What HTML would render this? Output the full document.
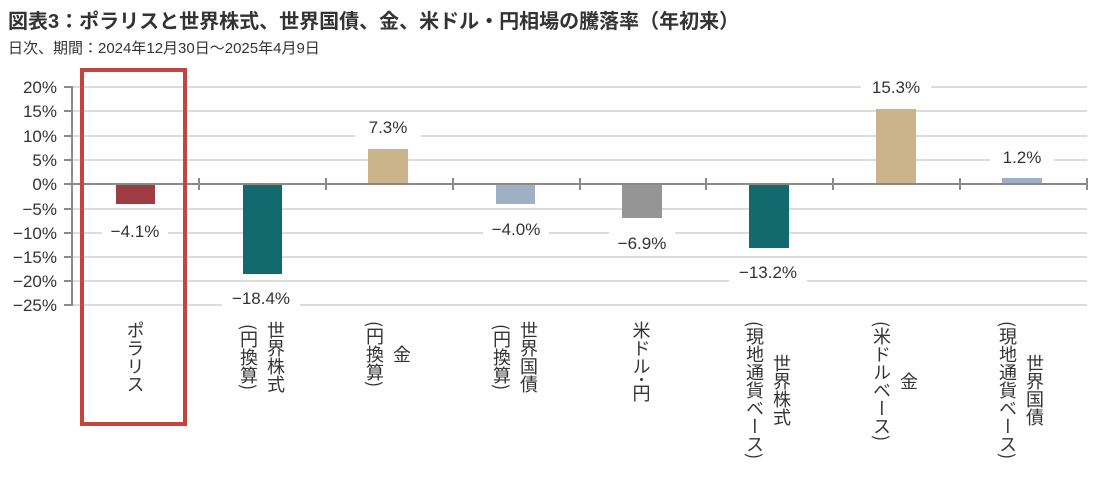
<!DOCTYPE html>
<html><head><meta charset="utf-8"><style>
body{margin:0;width:1097px;height:478px;background:#fff;position:relative;overflow:hidden;font-family:"Liberation Sans","Noto Sans CJK JP",sans-serif;color:#333}
.t{position:absolute;left:8px;top:5px;font-size:20px;font-weight:bold;color:#333;white-space:nowrap}
.s{position:absolute;left:8px;top:37px;font-size:15px;color:#333;white-space:nowrap}
.v{position:absolute;top:321px;writing-mode:vertical-rl;font-size:18px;line-height:27px;text-align:center;color:#333;white-space:nowrap;transform:translateX(-50%);font-family:"Noto Sans CJK JP",sans-serif}
.box{position:absolute;left:80px;top:68px;width:99px;height:350px;border:4px solid #c4453e}
</style></head><body>
<div class="t">図表3：ポラリスと世界株式、世界国債、金、米ドル・円相場の騰落率（年初来）</div>
<div class="s">日次、期間：2024年12月30日～2025年4月9日</div>
<svg width="1097" height="478" style="position:absolute;left:0;top:0" font-family="Liberation Sans, sans-serif">
<g stroke="#dcdcdc" stroke-width="2">
<line x1="72" x2="1087" y1="87" y2="87"/><line x1="72" x2="1087" y1="111" y2="111"/><line x1="72" x2="1087" y1="136" y2="136"/><line x1="72" x2="1087" y1="160" y2="160"/><line x1="72" x2="1087" y1="209" y2="209"/><line x1="72" x2="1087" y1="233" y2="233"/><line x1="72" x2="1087" y1="257" y2="257"/><line x1="72" x2="1087" y1="281" y2="281"/><line x1="72" x2="1087" y1="305" y2="305"/>
</g>
<rect x="116" y="184" width="39" height="20" fill="#9e3c44"/>
<rect x="243" y="184" width="39" height="90" fill="#136a6e"/>
<rect x="368" y="149" width="40" height="35" fill="#cbb38a"/>
<rect x="496" y="184" width="39" height="20" fill="#9fb0c4"/>
<rect x="622" y="184" width="40" height="34" fill="#959595"/>
<rect x="749" y="184" width="40" height="64" fill="#136a6e"/>
<rect x="876" y="109" width="40" height="75" fill="#cbb38a"/>
<rect x="1002" y="178" width="40" height="6" fill="#9fb0c4"/>
<g stroke="#8a8a8a" stroke-width="2">
<line x1="72" x2="72" y1="86" y2="306"/>
<line x1="64" x2="72" y1="87" y2="87"/><line x1="64" x2="72" y1="111" y2="111"/><line x1="64" x2="72" y1="136" y2="136"/><line x1="64" x2="72" y1="160" y2="160"/><line x1="64" x2="72" y1="184" y2="184"/><line x1="64" x2="72" y1="209" y2="209"/><line x1="64" x2="72" y1="233" y2="233"/><line x1="64" x2="72" y1="257" y2="257"/><line x1="64" x2="72" y1="281" y2="281"/><line x1="64" x2="72" y1="305" y2="305"/>
<line x1="72" x2="1087" y1="184" y2="184"/>
<line x1="199" x2="199" y1="178" y2="190"/><line x1="326" x2="326" y1="178" y2="190"/><line x1="453" x2="453" y1="178" y2="190"/><line x1="580" x2="580" y1="178" y2="190"/><line x1="706" x2="706" y1="178" y2="190"/><line x1="833" x2="833" y1="178" y2="190"/><line x1="960" x2="960" y1="178" y2="190"/><line x1="1087" x2="1087" y1="178" y2="190"/>
</g>
<g font-size="17" fill="#333" text-anchor="end">
<text x="57" y="93">20%</text><text x="57" y="117">15%</text><text x="57" y="142">10%</text><text x="57" y="166">5%</text><text x="57" y="190">0%</text><text x="57" y="215">−5%</text><text x="57" y="239">−10%</text><text x="57" y="263">−15%</text><text x="57" y="287">−20%</text><text x="57" y="311">−25%</text>
</g>
<g fill="#fff">
<rect x="102" y="218" width="66" height="26"/><rect x="222" y="285" width="78" height="26"/><rect x="355" y="114" width="66" height="26"/><rect x="483" y="216" width="66" height="26"/><rect x="609" y="230" width="66" height="26"/><rect x="729" y="259" width="78" height="26"/><rect x="861" y="74" width="70" height="26"/><rect x="990" y="144" width="64" height="26"/>
</g>
<g font-size="17" fill="#333" text-anchor="middle">
<text x="135" y="237">−4.1%</text><text x="261" y="304">−18.4%</text><text x="388" y="133">7.3%</text><text x="516" y="235">−4.0%</text><text x="642" y="249">−6.9%</text><text x="768" y="278">−13.2%</text><text x="896" y="93">15.3%</text><text x="1022" y="163">1.2%</text>
</g>
</svg>
<div class="box"></div>
<div class="v" style="left:135px">ポラリス</div>
<div class="v" style="left:262px">世界株式<br>(円換算)</div>
<div class="v" style="left:388px">金<br>(円換算)</div>
<div class="v" style="left:515px">世界国債<br>(円換算)</div>
<div class="v" style="left:641px">米ドル･円</div>
<div class="v" style="left:768px">世界株式<br>(現地通貨ベース)</div>
<div class="v" style="left:895px">金<br>(米ドルベース)</div>
<div class="v" style="left:1021px">世界国債<br>(現地通貨ベース)</div>
</body></html>
